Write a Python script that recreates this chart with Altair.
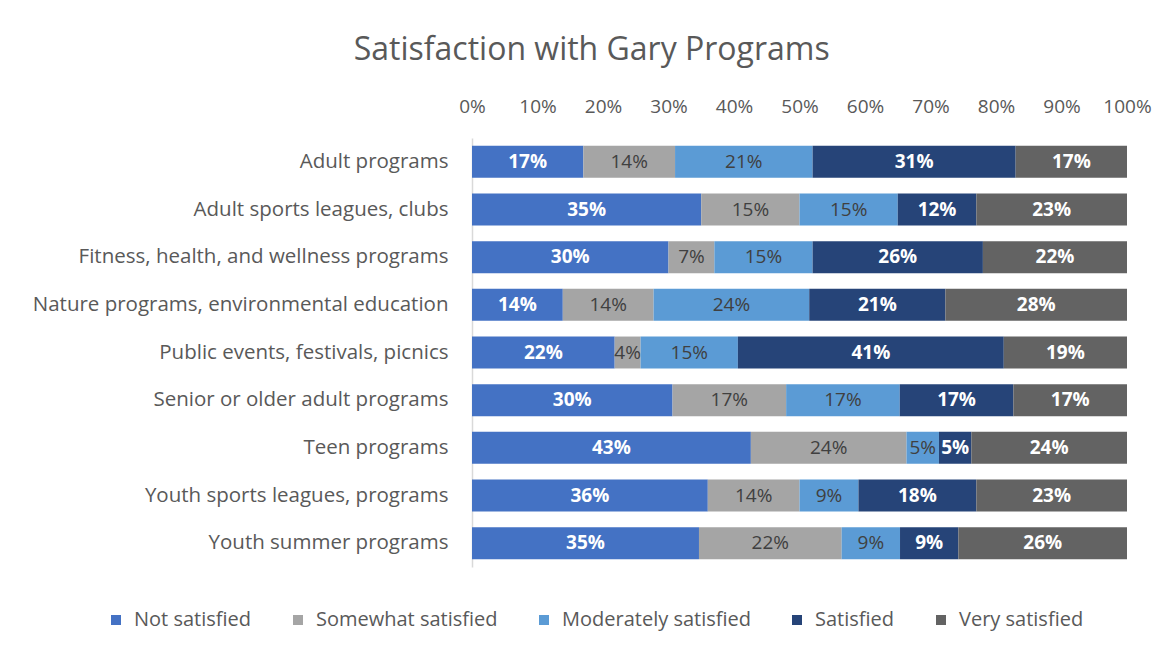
import altair as alt
import pandas as pd

programs = [
    "Adult programs",
    "Adult sports leagues, clubs",
    "Fitness, health, and wellness programs",
    "Nature programs, environmental education",
    "Public events, festivals, picnics",
    "Senior or older adult programs",
    "Teen programs",
    "Youth sports leagues, programs",
    "Youth summer programs",
]
categories = ["Not satisfied", "Somewhat satisfied", "Moderately satisfied", "Satisfied", "Very satisfied"]
not_satisfied = [17, 35, 30, 14, 22, 30, 43, 36, 35]
somewhat_satisfied = [14, 15, 7, 14, 4, 17, 24, 14, 22]
moderately_satisfied = [21, 15, 15, 24, 15, 17, 5, 9, 9]
satisfied = [31, 12, 26, 21, 41, 17, 5, 18, 9]
very_satisfied = [17, 23, 22, 28, 19, 17, 24, 23, 26]
colors = ["#4472C4", "#A5A5A5", "#5B9BD5", "#264478", "#636363"]
label_colors = ["white", "#404040", "#404040", "white", "white"]

series = [not_satisfied, somewhat_satisfied, moderately_satisfied, satisfied, very_satisfied]
rows = []
for ci, (cat, vals) in enumerate(zip(categories, series)):
    for p, v in zip(programs, vals):
        rows.append({"program": p, "category": cat, "order": ci, "value": v,
                     "label": f"{v}%", "lc": label_colors[ci]})
df = pd.DataFrame(rows)

FONT = "Open Sans"
TXT = "#595959"

base = alt.Chart(df).transform_stack(
    stack="value", groupby=["program"], as_=["v0", "v1"], offset="normalize",
    sort=[alt.SortField("order", order="ascending")]
).transform_calculate(mid="(datum.v0 + datum.v1) / 2")

y_enc = alt.Y("program:N", sort=programs, title=None,
              scale=alt.Scale(paddingInner=0.33, paddingOuter=0.165),
              axis=alt.Axis(labelFont=FONT, labelFontSize=20.5, labelColor=TXT, labelPadding=24,
                            ticks=False, domain=True, domainColor="#D9D9D9", domainWidth=1.5,
                            labelLimit=600))

bars = base.mark_bar().encode(
    x=alt.X("v0:Q", title=None, scale=alt.Scale(domain=[0, 1], nice=False),
            axis=alt.Axis(orient="top", format=".0%", values=[i / 10 for i in range(11)],
                          labelFont=FONT, labelFontSize=19, labelColor=TXT, labelPadding=22,
                          labelOverlap=False, labelFlush=False,
                          ticks=False, domain=False, grid=False)),
    x2="v1:Q",
    y=y_enc,
    color=alt.Color("category:N", sort=categories,
                    scale=alt.Scale(domain=categories, range=colors),
                    legend=alt.Legend(title=None, orient="none", direction="horizontal",
                                      legendX=-366, legendY=472, symbolType="square",
                                      symbolSize=100, symbolStrokeWidth=0, labelFont=FONT,
                                      labelFontSize=20, labelColor=TXT, columnPadding=36,
                                      labelOffset=8, labelLimit=400)),
    order=alt.Order("order:Q"),
)

texts_white = base.transform_filter("datum.lc == 'white'").mark_text(
    font=FONT, fontSize=19, fontWeight="bold", color="white"
).encode(x="mid:Q", y=alt.Y("program:N", sort=programs), text="label:N")

texts_dark = base.transform_filter("datum.lc != 'white'").mark_text(
    font=FONT, fontSize=19, color="#404040"
).encode(x="mid:Q", y=alt.Y("program:N", sort=programs), text="label:N")

chart = alt.layer(bars, texts_white, texts_dark).properties(
    width=655, height=429,
    background="white",
    title=alt.Title("Satisfaction with Gary Programs", font=FONT, fontSize=32, fontWeight="normal",
                    color=TXT, anchor="middle", frame="bounds", offset=30),
    autosize=alt.AutoSizeParams(type="none"),
    padding={"left": 464, "top": 130, "right": 30, "bottom": 70},
).configure_view(stroke="transparent", strokeWidth=0)

chart.save("out.html", embed_options={"renderer": "svg", "actions": False})
